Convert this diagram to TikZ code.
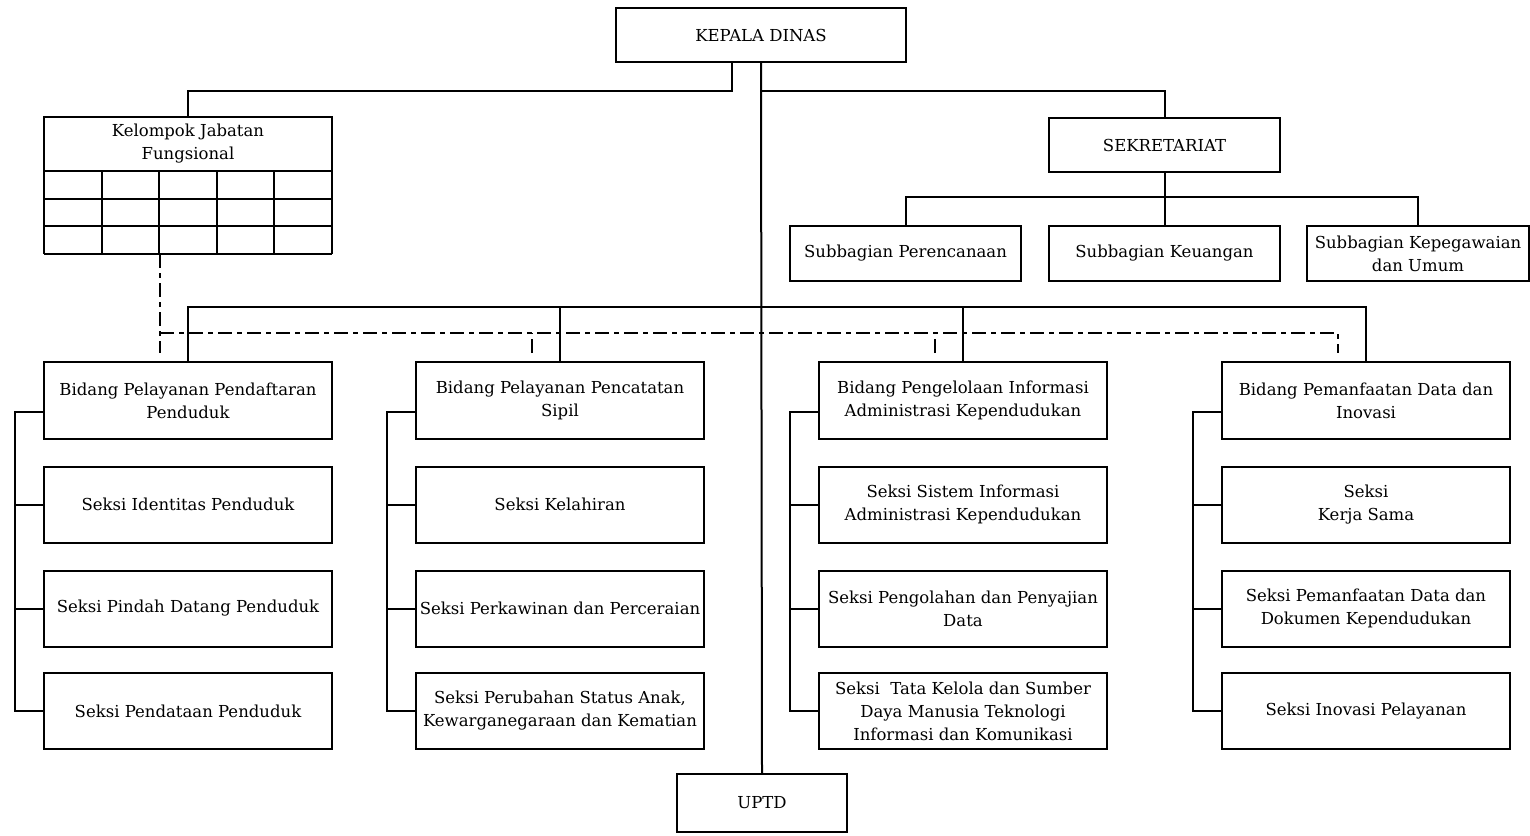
\documentclass[tikz,border=0pt]{standalone}
\usepackage{fontspec}
\setmainfont{DejaVu Serif}
\usetikzlibrary{positioning}

\tikzset{
  orgbox/.style={draw, line width=2pt, align=center, inner sep=0pt,
    minimum width=288pt, minimum height=76pt},
  topbox/.style={orgbox, minimum width=231pt, minimum height=55pt},
  dashdot/.style={line width=2pt, dash pattern=on 14pt off 5pt on 5pt off 5pt}
}

\begin{document}
\begin{tikzpicture}[x=1pt, y=-1pt, line width=2pt,
  font=\fontsize{16.5}{23}\selectfont]
  \useasboundingbox (0,0) rectangle (1530,835);

  % Top level
  \node[topbox, minimum width=290pt, minimum height=54pt] (kadis) at (761,35) {KEPALA DINAS};
  \node[topbox, minimum width=170pt, minimum height=58pt] (uptd) at (762,803) {UPTD};

  % Kelompok Jabatan Fungsional with its grid
  \node[orgbox, minimum height=54pt] (kjf) at (188,144) {Kelompok Jabatan\\Fungsional};
  \foreach \i in {0,...,5}
    \draw ({44+57.6*\i},171) -- ({44+57.6*\i},254);
  \foreach \j in {171,199,226,254}
    \draw (44,\j) -- (332,\j);
  \coordinate (kjfbot) at (160,254);

  % Sekretariat
  \node[topbox, minimum height=54pt] (sekr) at (1164.5,145) {SEKRETARIAT};
  \node[topbox] (sub1) at (905.5,253.5) {Subbagian Perencanaan};
  \node[topbox] (sub2) at (1164.5,253.5) {Subbagian Keuangan};
  \node[topbox, minimum width=222pt] (sub3) at (1418,253.5) {Subbagian Kepegawaian\\dan Umum};

  % Bidang
  \node[orgbox, minimum height=77pt] (bid1) at (188,400.5) {Bidang Pelayanan Pendaftaran\\Penduduk};
  \node[orgbox, minimum height=77pt] (bid2) at (560,400.5) {Bidang Pelayanan Pencatatan\\Sipil};
  \node[orgbox, minimum height=77pt] (bid3) at (963,400.5) {Bidang Pengelolaan Informasi\\Administrasi Kependudukan};
  \node[orgbox, minimum height=77pt] (bid4) at (1366,400.5) {Bidang Pemanfaatan Data dan\\Inovasi};

  % Seksi
  \node[orgbox] (s11) at (188,504.5) {Seksi Identitas Penduduk};
  \node[orgbox] (s12) at (188,608.5) {Seksi Pindah Datang Penduduk};
  \node[orgbox] (s13) at (188,711) {Seksi Pendataan Penduduk};

  \node[orgbox] (s21) at (560,504.5) {Seksi Kelahiran};
  \node[orgbox] (s22) at (560,608.5) {Seksi Perkawinan dan Perceraian};
  \node[orgbox] (s23) at (560,711) {Seksi Perubahan Status Anak,\\Kewarganegaraan dan Kematian};

  \node[orgbox] (s31) at (963,504.5) {Seksi Sistem Informasi\\Administrasi Kependudukan};
  \node[orgbox] (s32) at (963,608.5) {Seksi Pengolahan dan Penyajian\\Data};
  \node[orgbox] (s33) at (963,711) {Seksi\ \ Tata Kelola dan Sumber\\Daya Manusia Teknologi\\Informasi dan Komunikasi};

  \node[orgbox] (s41) at (1366,504.5) {Seksi\\Kerja Sama};
  \node[orgbox] (s42) at (1366,608.5) {Seksi Pemanfaatan Data dan\\Dokumen Kependudukan};
  \node[orgbox] (s43) at (1366,711) {Seksi Inovasi Pelayanan};

  % Solid lines of command
  \draw (kadis.south) -- (uptd.north);
  \draw ([xshift=-29pt]kadis.south) -- ++(0,28) -| (kjf.north);
  \draw (kadis.south) ++(0,28) -| (sekr.north);
  \draw (sekr.south) -- (sub2.north);
  \draw (sub1.north) -- ++(0,-28) -| (sub3.north);
  \draw (bid1.north) -- ++(0,-54) -| (bid4.north);
  \draw (bid2.north) -- ++(0,-54);
  \draw (bid3.north) -- ++(0,-54);

  % Spines of each Bidang
  \draw ([yshift=-11pt]bid1.west) -- ++(-28,0) |- (s13.west);
  \draw (s11.west) -- ++(-28,0);
  \draw (s12.west) -- ++(-28,0);
  \draw ([yshift=-11pt]bid2.west) -- ++(-28,0) |- (s23.west);
  \draw (s21.west) -- ++(-28,0);
  \draw (s22.west) -- ++(-28,0);
  \draw ([yshift=-11pt]bid3.west) -- ++(-28,0) |- (s33.west);
  \draw (s31.west) -- ++(-28,0);
  \draw (s32.west) -- ++(-28,0);
  \draw ([yshift=-11pt]bid4.west) -- ++(-28,0) |- (s43.west);
  \draw (s41.west) -- ++(-28,0);
  \draw (s42.west) -- ++(-28,0);

  % Lines of coordination
  \coordinate (d1) at ([xshift=-28pt,yshift=8pt]bid1.north);
  \coordinate (d2) at ([xshift=-28pt,yshift=8pt]bid2.north);
  \coordinate (d3) at ([xshift=-28pt,yshift=8pt]bid3.north);
  \coordinate (d4) at ([xshift=-28pt,yshift=8pt]bid4.north);
  \draw[dashdot] (kjfbot) -- (d1);
  \draw[dashdot] ([yshift=20pt]d1) -| (d4);
  \draw[dashdot] (d2) -- ++(0,-20);
  \draw[dashdot] (d3) -- ++(0,-20);
\end{tikzpicture}
\end{document}
